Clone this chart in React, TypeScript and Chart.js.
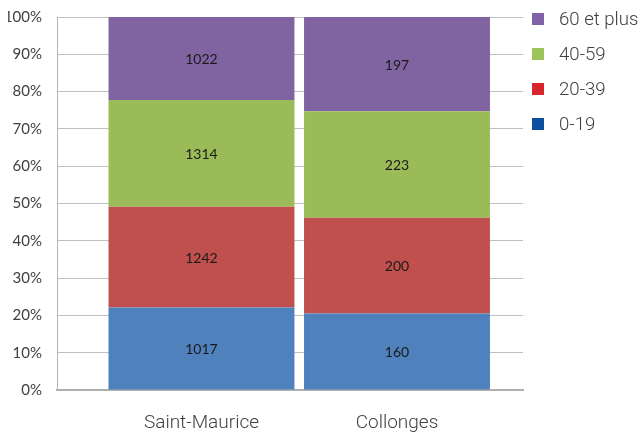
import React, { useEffect, useRef } from 'react';
import { Chart, registerables } from 'chart.js';

Chart.register(...registerables);

// ---- data ----
const CATEGORIES = ['Saint-Maurice', 'Collonges'];
const SERIES_LABELS = ['0-19', '20-39', '40-59', '60 et plus'];
const AGE_0_19 = [1017, 160];
const AGE_20_39 = [1242, 200];
const AGE_40_59 = [1314, 223];
const AGE_60_PLUS = [1022, 197];
const COUNTS = [AGE_0_19, AGE_20_39, AGE_40_59, AGE_60_PLUS];
const Y_MIN = 0;
const Y_MAX = 100;
const Y_STEP = 10;

// ---- styles ----
const BAR_COLORS = ['#4F81BD', '#C0504D', '#9BBB59', '#8064A2'];
const LEGEND_COLORS = ['#0B4F9E', '#D9262E', '#9DC35B', '#8062A8'];
const X_MIN = -0.739;
const X_MAX = 1.6445;

const totals = CATEGORIES.map((_, i) => COUNTS.reduce((s, arr) => s + arr[i], 0));

const valueLabels = {
  id: 'valueLabels',
  afterDatasetsDraw(chart: any) {
    const { ctx } = chart;
    ctx.save();
    ctx.font = '14px Lato';
    ctx.fillStyle = '#1a1a1a';
    ctx.textAlign = 'center';
    ctx.textBaseline = 'middle';
    chart.data.datasets.forEach((_ds: any, di: number) => {
      const meta = chart.getDatasetMeta(di);
      meta.data.forEach((bar: any, i: number) => {
        const { x, y, base } = bar.getProps(['x', 'y', 'base'], true);
        ctx.fillText(String(COUNTS[di][i]), x, (y + base) / 2 + 1);
      });
    });
    ctx.restore();
  },
};

const sideLegend = {
  id: 'sideLegend',
  afterDraw(chart: any) {
    const { ctx, chartArea } = chart;
    const items = chart.data.datasets
      .map((d: any, i: number) => ({ text: d.label, color: LEGEND_COLORS[i] }))
      .reverse();
    ctx.save();
    ctx.font = '300 18.6px Roboto';
    ctx.textBaseline = 'middle';
    ctx.textAlign = 'left';
    const boxX = chartArea.right + 9;
    items.forEach((it: any, i: number) => {
      const cy = 19 + i * 35;
      ctx.fillStyle = it.color;
      ctx.fillRect(boxX, cy - 6, 12, 12);
      ctx.fillStyle = '#404040';
      ctx.fillText(it.text, boxX + 27, cy + 1);
    });
    ctx.restore();
  },
};

export default function App() {
  const canvasRef = useRef<HTMLCanvasElement | null>(null);

  useEffect(() => {
    if (!canvasRef.current) return;
    const chart = new Chart(canvasRef.current, {
      type: 'bar',
      data: {
        datasets: SERIES_LABELS.map((label, si) => ({
          label,
          data: CATEGORIES.map((_, ci) => ({ x: ci, y: (COUNTS[si][ci] / totals[ci]) * 100 })),
          backgroundColor: BAR_COLORS[si],
          borderWidth: 0,
          categoryPercentage: 1,
          barPercentage: 0.951,
        })),
      },
      plugins: [valueLabels, sideLegend],
      options: {
        animation: false,
        responsive: true,
        maintainAspectRatio: false,
        layout: { padding: { left: 0, top: 17, right: 117, bottom: 0 } },
        plugins: {
          legend: { display: false },
          tooltip: { enabled: false },
        },
        scales: {
          x: {
            type: 'linear',
            stacked: true,
            offset: false,
            min: X_MIN,
            max: X_MAX,
            afterBuildTicks: (scale: any) => {
              scale.ticks = CATEGORIES.map((_, i) => ({ value: i }));
            },
            afterFit: (scale: any) => {
              scale.height = 42;
              scale.paddingLeft = 0;
              scale.paddingRight = 0;
            },
            grid: { display: true, offset: false, color: 'rgba(0,0,0,0)', drawTicks: false },
            border: { display: true, color: '#AFAFAF', width: 2 },
            ticks: {
              padding: 22,
              color: '#404040',
              font: { family: 'Roboto', size: 19, weight: '300' as any },
              callback: (v: any) => CATEGORIES[v] ?? '',
            },
          },
          y: {
            stacked: true,
            min: Y_MIN,
            max: Y_MAX,
            afterFit: (scale: any) => {
              scale.width = 57;
              scale.paddingTop = 0;
              scale.paddingBottom = 0;
            },
            grid: { color: '#C0C0C0', drawTicks: false, lineWidth: 1 },
            border: { display: true, color: '#B5B5B5', width: 1 },
            ticks: {
              stepSize: Y_STEP,
              padding: 15,
              color: '#404040',
              font: { family: 'Lato', size: 15 },
              callback: (v: any) => `${v}%`,
            },
          },
        },
      } as any,
    });
    return () => chart.destroy();
  }, []);

  return (
    <div
      style={{
        position: 'absolute',
        left: 0,
        top: 0,
        width: 640,
        height: 432,
        overflow: 'hidden',
        clipPath: 'inset(0px 0px 0px 8px)',
      }}
    >
      <canvas ref={canvasRef} />
    </div>
  );
}
